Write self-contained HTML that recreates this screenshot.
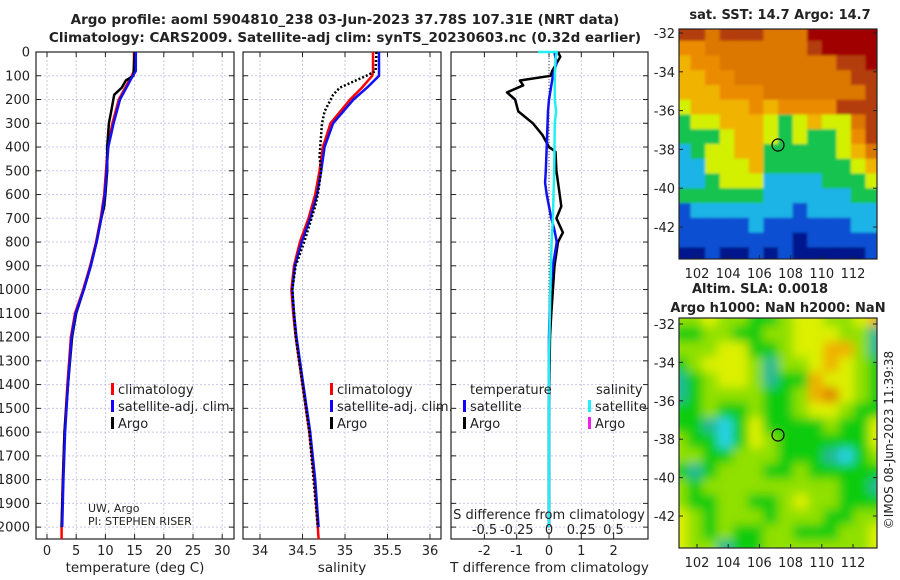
<!DOCTYPE html>
<html><head><meta charset="utf-8"><style>
html,body{margin:0;padding:0;background:#fff;width:900px;height:580px;overflow:hidden}
svg text{font-family:"DejaVu Sans","Liberation Sans",sans-serif;fill:#222}
</style></head><body>
<svg id="c" width="900" height="580" viewBox="0 0 900 580" xmlns="http://www.w3.org/2000/svg">
<defs><filter id="bl" x="0" y="0" width="1" height="1"><feGaussianBlur stdDeviation="5"/></filter>
<filter id="bl2" x="0" y="0" width="1" height="1"><feGaussianBlur stdDeviation="1.2"/></filter>
<clipPath id="cp1"><rect x="679" y="29" width="198" height="230"/></clipPath>
<clipPath id="cp2"><rect x="679" y="318" width="198" height="230"/></clipPath></defs>
<text x="345" y="24" text-anchor="middle" font-weight="bold" font-size="13.5">Argo profile: aoml 5904810_238 03-Jun-2023 37.78S 107.31E (NRT data)</text>
<text x="345" y="42" text-anchor="middle" font-weight="bold" font-size="13.5">Climatology: CARS2009. Satellite-adj clim: synTS_20230603.nc (0.32d earlier)</text>
<text x="780" y="19" text-anchor="middle" font-weight="bold" font-size="13">sat. SST: 14.7 Argo: 14.7</text>
<text x="760" y="293" text-anchor="middle" font-weight="bold" font-size="13">Altim. SLA: 0.0018</text>
<text x="778" y="312" text-anchor="middle" font-weight="bold" font-size="13">Argo h1000: NaN h2000: NaN</text>
<text transform="translate(893,440) rotate(-90)" text-anchor="middle" font-size="12">©IMOS 08-Jun-2023 11:39:38</text>
</svg>
<script>
// ---- data ----
const depthTicks=[0,100,200,300,400,500,600,700,800,900,1000,1100,1200,1300,1400,1500,1600,1700,1800,1900,2000];
const tempTicks=[0,5,10,15,20,25,30];
const salTicks=[34,34.5,35,35.5,36];
const tdiffTicks=[-2,-1,0,1,2];
const sdiffTicks=[-0.5,-0.25,0,0.25,0.5];
const argoTDepth=[0,100,120,150,180,250,300,400,500,600,650,700,800,900,1000,1100,1200,1400,1600,2000];
const argoTemp=[15.0,14.8,13.5,12.8,11.5,11.0,10.6,10.3,10.3,10.0,9.8,9.3,8.5,7.5,6.3,5.0,4.3,3.6,3.0,2.5];
const climDepth=[0,80,100,150,200,300,400,500,600,700,800,900,1000,1100,1200,1400,1600,1800,2000,2050];
const climTemp=[14.9,14.9,14.5,13.4,12.3,11.2,10.4,10.1,9.8,9.2,8.4,7.4,6.2,4.8,4.1,3.5,3.0,2.7,2.5,2.5];
const satTemp=[15.2,15.2,14.7,13.6,12.5,11.4,10.5,10.2,9.9,9.3,8.5,7.5,6.3,4.9,4.2,3.6,3.1,2.8,2.6,2.6];
const climSal=[35.33,35.33,35.32,35.2,35.06,34.83,34.74,34.70,34.65,34.57,34.47,34.40,34.37,34.39,34.42,34.5,34.58,34.64,34.68,34.69];
const satSal=[35.40,35.40,35.40,35.26,35.10,34.86,34.76,34.72,34.67,34.59,34.49,34.41,34.38,34.40,34.43,34.51,34.59,34.65,34.69,34.69];
const argoSDepth=[0,80,100,150,180,250,300,440,500,600,650,800,900,1000,1100,1200,1400,1600,1800,2000];
const argoSal=[35.37,35.36,35.25,34.94,34.86,34.76,34.73,34.70,34.72,34.68,34.65,34.52,34.42,34.38,34.40,34.42,34.5,34.58,34.63,34.68];
const tdDepth=[0,20,80,100,120,140,170,200,250,300,350,400,420,500,600,650,700,760,800,900,1000,1100,1200,1500,2000];
const argoTDiff=[0.28,0.35,0.1,0.05,-0.9,-0.8,-1.3,-1.05,-0.95,-0.5,-0.2,0.0,0.2,0.23,0.33,0.38,0.23,0.43,0.28,0.17,0.12,0.07,0.03,0.0,0.0];
const sdDepth=[0,50,100,200,250,400,500,550,600,700,750,800,900,1000,1200,2000];
const satTDiff=[0.17,0.23,0.12,0.0,-0.03,-0.07,-0.1,-0.12,-0.07,0.07,0.17,0.24,0.12,0.04,0.0,0.0];
const ssDepth=[0,30,100,200,250,300,500,700,800,1000,1300,2000];
const satSDiff=[0.06,0.05,0.045,0.045,0.055,0.045,0.04,0.03,0.02,0.01,0.0,0.0];
const sstRows=["88788877799999","66777777789999","56677777777889","55667777777788","55566677777778","45555656666888","34455543454478","33345543433468","23445533333457","22444533333345","22344422223334","33333322222233","12222222122222","11111211111122","11111111011111","00100101000001"];
const slaRows=["33433223443345","22332233444331","33344223445531","23444313345432","12344312254432","12333322356432","22322322344322","22102422223224","32202432222224","33223332221023","21233322322222","32333333333221","32233223433222","43233323332233","43232233222334","43312233333334"];
const sstPal=["#00148c","#0a50d2","#1eb4e6","#14c350","#d2f000","#f0b400","#eb8c00","#dc7800","#b43c0a","#a00000"];
const slaPal=["#28d2e6","#20b896","#10cc10","#90e000","#dcf000","#f0b000","#e08000"];
// ---- helpers ----
const NS="http://www.w3.org/2000/svg", svg=document.getElementById('c');
function mk(tag,attrs,parent){const e=document.createElementNS(NS,tag);for(const k in attrs)e.setAttribute(k,attrs[k]);(parent||svg).appendChild(e);return e;}
const top0=52,bot=539;
const yD=d=>top0+d*(bot-top0)/2050;
const panels=[{x0:36,x1:234,fx:v=>47+v*5.84,ticks:tempTicks,lab:'temperature (deg C)',name:'temperature'},
{x0:243,x1:441,fx:v=>260+(v-34)*85,ticks:salTicks,lab:'salinity',name:'salinity'},
{x0:451,x1:648,fx:v=>549+v*32.3,ticks:tdiffTicks,lab:'T difference from climatology',name:'difference'}];
panels.forEach((p,i)=>{
 const g=mk('g',{});
 
 
 depthTicks.forEach(d=>{const y=yD(d);
  const l=mk('line',{x1:p.x0,x2:p.x1,y1:y,y2:y,stroke:'#c9c9ea','stroke-dasharray':'2,2','stroke-width':1},g);
  
  mk('line',{x1:p.x0,x2:p.x0+5,y1:y,y2:y,stroke:'#222'},g);mk('line',{x1:p.x1-5,x2:p.x1,y1:y,y2:y,stroke:'#222'},g);
  if(i==0){const t=mk('text',{x:30,y:y+4.5,'text-anchor':'end','font-size':13});t.textContent=d;
   }
 });
 p.ticks.forEach(v=>{const x=p.fx(v);
  const l=mk('line',{x1:x,x2:x,y1:top0,y2:bot,stroke:'#c9c9ea','stroke-dasharray':'2,2'},g);
  
  mk('line',{x1:x,x2:x,y1:bot-5,y2:bot,stroke:'#222'},g);mk('line',{x1:x,x2:x,y1:top0,y2:top0+5,stroke:'#222'},g);
  const t=mk('text',{x:x,y:555,'text-anchor':'middle','font-size':13},g);t.textContent=v;
  });
 const r=mk('rect',{x:p.x0,y:top0,width:p.x1-p.x0,height:bot-top0,fill:'none',stroke:'#222','stroke-width':1.2},g);
 
 const xl=mk('text',{x:(p.x0+p.x1)/2,y:572,'text-anchor':'middle','font-size':13.5},g);xl.textContent=p.lab;
 
});
function line(depths,vals,fx,color,w,name,dash){
 const pts=depths.map((d,i)=>fx(vals[i]).toFixed(1)+','+yD(d).toFixed(1)).join(' ');
 const a={points:pts,fill:'none',stroke:color,'stroke-width':w,'stroke-linejoin':'round'};
 if(dash)a['stroke-dasharray']=dash;
 const e=mk('polyline',a);
 
 
}
const P=panels;
line(climDepth,climTemp,P[0].fx,'#f00',2.5,'temp-climatology-line');
line(argoTDepth,argoTemp,P[0].fx,'#000',2.5,'temp-argo-line');
line(climDepth.slice(0,19),satTemp.slice(0,19),P[0].fx,'#1010f0',2.5,'temp-satellite-line');
line(climDepth,climSal,P[1].fx,'#f00',2.5,'sal-climatology-line');
line(climDepth.slice(0,19),satSal.slice(0,19),P[1].fx,'#1010f0',2.5,'sal-satellite-line');
line(argoSDepth,argoSal,P[1].fx,'#000',2.5,'sal-argo-line','2,2');
const z=mk('line',{x1:549,x2:549,y1:top0,y2:bot,stroke:'#444','stroke-dasharray':'1,2'});

line(tdDepth,argoTDiff,P[2].fx,'#000',2.5,'tdiff-argo-line');
line(sdDepth,satTDiff,P[2].fx,'#1010f0',2.5,'tdiff-satellite-line');
const fs=v=>549+v*129;
line(ssDepth,satSDiff,fs,'#20f0f0',2.5,'sdiff-satellite-line');
const cap=mk('line',{x1:fs(-0.085),x2:fs(0.07),y1:yD(0),y2:yD(0),stroke:'#20f0f0','stroke-width':2.5});

// legends
function leg(x,y,color,label,name){
 const m=mk('rect',{x:x,y:y-9,width:3,height:12,fill:color});
 
 if(label){const t=mk('text',{x:x+7,y:y+2,'font-size':13});t.textContent=label;
 }
}
leg(111,392,'#f00','climatology','legend-climatology');leg(111,409,'#10f','satellite-adj. clim.','legend-satellite');leg(111,426,'#000','Argo','legend-argo');
leg(330,392,'#f00','climatology','legend2-climatology');leg(330,409,'#10f','satellite-adj. clim.','legend2-satellite');leg(330,426,'#000','Argo','legend2-argo');
leg(463,409,'#10f','satellite','legend3-t-satellite');leg(463,426,'#000','Argo','legend3-t-argo');
leg(588,409,'#2ef','satellite','legend3-s-satellite');leg(588,426,'#e2e','Argo','legend3-s-argo');
function txt(x,y,s,size,name,anchor){const t=mk('text',{x:x,y:y,'font-size':size,'text-anchor':anchor||'start'});t.textContent=s;
 }
txt(470,394,'temperature',13,'legend3-temperature-heading');txt(596,394,'salinity',13,'legend3-salinity-heading');
txt(88,512,'UW, Argo',11,'credit-uw-argo');txt(88,525,'PI: STEPHEN RISER',11,'credit-pi');
txt(549,519,'S difference from climatology',13,'s-diff-axis-title','middle');
sdiffTicks.forEach(v=>txt(fs(v),534,String(v),13,'s-diff-tick-label','middle'));
// maps
function map(rows,pal,x0,y0,w,h,name,filt){
 const g=mk('g',filt?{filter:filt}:{});
 
 const nr=rows.length,nc=rows[0].length,cw=w/nc,ch=h/nr;
 rows.forEach((r,i)=>{for(let j=0;j<nc;j++){const c=mk('rect',{x:x0+j*cw,y:y0+i*ch,width:cw+0.6,height:ch+0.6,fill:pal[+r[j]]},g);
  }});
 return g;
}
const tg=mk('g',{'clip-path':'url(#cp1)'});

tg.appendChild(map(sstRows,sstPal,676,26,204,236,'sst-map','url(#bl2)'));
const sg=mk('g',{'clip-path':'url(#cp2)'});

sg.appendChild(map(slaRows,slaPal,672,311,212,244,'sla-map','url(#bl)'));
const lonTicks=[102,104,106,108,110,112], latTicks=[-32,-34,-36,-38,-40,-42];
[[29,259,33,38.8],[318,548,324,38.4]].forEach((m,k)=>{
 const fr=mk('rect',{x:679,y:m[0],width:198,height:m[1]-m[0],fill:'none',stroke:'#222','stroke-width':1.2});
 
 latTicks.forEach((v,i)=>{const y=m[2]+i*m[3];mk('line',{x1:679,x2:683,y1:y,y2:y,stroke:'#222'});mk('line',{x1:873,x2:877,y1:y,y2:y,stroke:'#222'});
  txt(675,y+5,String(v),13,'lat-tick-label','end');});
 lonTicks.forEach(v=>{const x=697+(v-102)*15.6;mk('line',{x1:x,x2:x,y1:m[1]-4,y2:m[1],stroke:'#222'});
  txt(x,m[1]+19,String(v),13,'lon-tick-label','middle');});
 const c=mk('circle',{cx:778,cy:k?435:145,r:6,fill:'none',stroke:'#000','stroke-width':1.2});
 
});
</script>
</body></html>
